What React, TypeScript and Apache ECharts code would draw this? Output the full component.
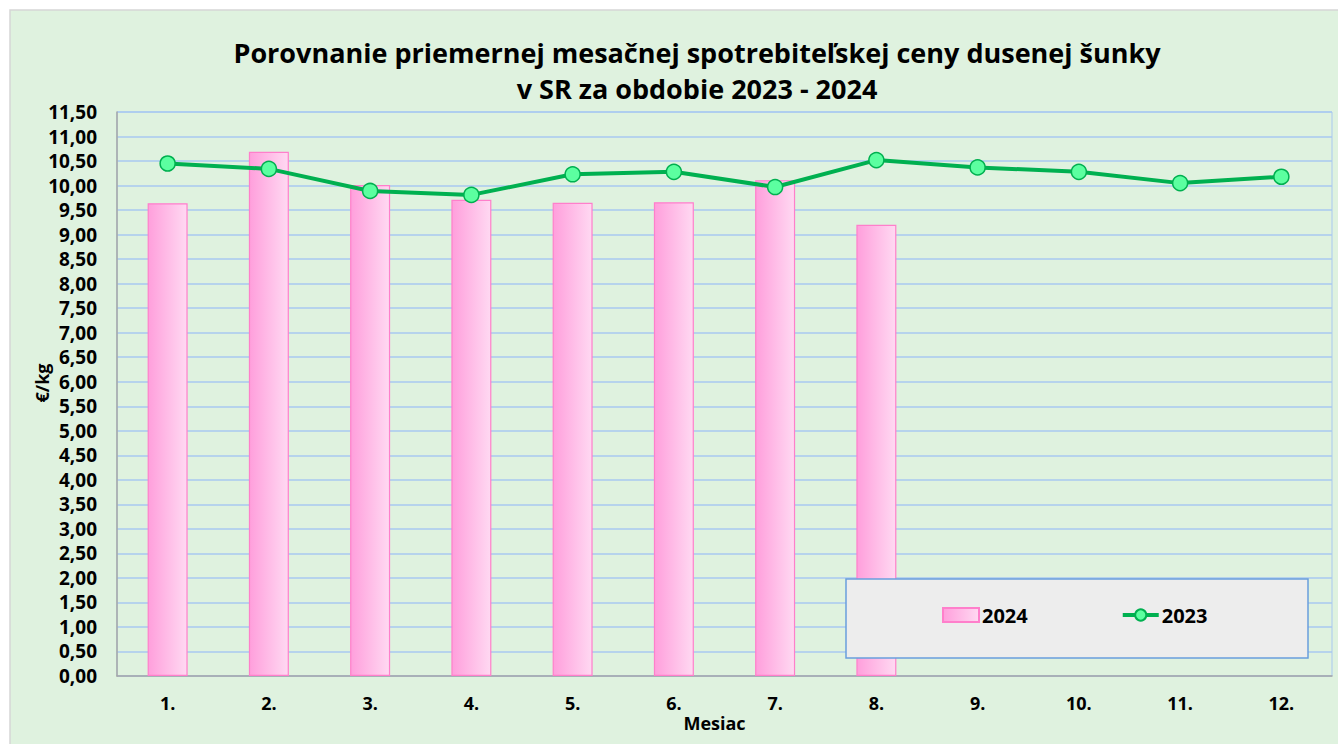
import React, { useEffect, useRef } from "react";
import * as echarts from "echarts";

const months = ["1.", "2.", "3.", "4.", "5.", "6.", "7.", "8.", "9.", "10.", "11.", "12."];
const values2024 = [9.64, 10.69, 10.01, 9.71, 9.65, 9.66, 10.11, 9.2, null, null, null, null];
const values2023 = [10.45, 10.34, 9.89, 9.81, 10.23, 10.28, 9.97, 10.52, 10.37, 10.28, 10.05, 10.18];
const titleText = "Porovnanie priemernej mesačnej spotrebiteľskej ceny dusenej šunky\nv SR za obdobie 2023 - 2024";
const FONT = "'Open Sans', 'Noto Sans', sans-serif";

export default function App() {
  const ref = useRef<HTMLDivElement>(null);
  useEffect(() => {
    if (!ref.current) return;
    const chart = echarts.init(ref.current, null, { renderer: "svg" });
    const barGrad = new echarts.graphic.LinearGradient(0, 0, 1, 0, [
      { offset: 0, color: "#FF9FDC" },
      { offset: 1, color: "#FFD9F2" },
    ]);
    chart.setOption({
      animation: false,
      backgroundColor: "#FFFFFF",
      textStyle: { fontFamily: FONT },
      graphic: [
        {
          type: "rect",
          z: -10,
          silent: true,
          shape: { x: 10, y: 10, width: 1330, height: 740 },
          style: { fill: "#DFF2DF", stroke: "#D6D6D6", lineWidth: 1.5 },
        },
        {
          type: "rect",
          z: 10,
          silent: true,
          shape: { x: 846, y: 579, width: 462, height: 79 },
          style: { fill: "#EDEDED", stroke: "#6A9FDD", lineWidth: 1.5 },
        },
      ],
      title: {
        text: titleText,
        left: 692,
        textAlign: "center",
        top: 29,
        textStyle: {
          fontFamily: FONT,
          fontWeight: "bold",
          fontSize: 27,
          lineHeight: 36,
          color: "#000000",
        },
      },
      legend: {
        left: 942,
        top: 605,
        padding: 0,
        z: 20,
        itemGap: 93,
        itemWidth: 36,
        itemHeight: 14,
        textStyle: { fontFamily: FONT, fontWeight: "bold", fontSize: 20, color: "#000", padding: [0, 0, 0, -2] },
        data: [
          { name: "2024", icon: "rect" },
          { name: "2023", lineStyle: { width: 4 } },
        ],
      },
      grid: {
        left: 117,
        top: 112,
        right: 6,
        bottom: 68,
        show: true,
        borderColor: "#A9C8F0",
        borderWidth: 1,
        backgroundColor: "transparent",
      },
      xAxis: {
        type: "category",
        data: months,
        name: "Mesiac",
        nameLocation: "middle",
        nameGap: 38,
        nameMoveOverlap: false,
        nameTextStyle: { fontFamily: FONT, fontWeight: "bold", fontSize: 18, color: "#000", padding: [0, 20, 0, 0] },
        axisLine: { show: true, lineStyle: { color: "#A6A6A6", width: 1.5 } },
        axisTick: { show: false },
        axisLabel: { fontFamily: FONT, fontWeight: "bold", fontSize: 18, color: "#000", margin: 18 },
        splitLine: { show: false },
      },
      yAxis: {
        type: "value",
        min: 0,
        max: 11.5,
        interval: 0.5,
        name: "€/kg",
        nameLocation: "middle",
        nameGap: 66,
        nameMoveOverlap: false,
        nameRotate: 90,
        nameTextStyle: { fontFamily: FONT, fontWeight: "bold", fontSize: 18, color: "#000", padding: [0, 0, 0, 22] },
        axisLine: { show: true, lineStyle: { color: "#A6A6A6", width: 1.5 } },
        axisTick: { show: false },
        axisLabel: {
          fontFamily: FONT,
          fontWeight: "bold",
          fontSize: 19,
          color: "#000",
          margin: 20,
          formatter: (v: number) => v.toFixed(2).replace(".", ","),
        },
        splitLine: { show: true, lineStyle: { color: "#A9C8F0", width: 1.5 } },
      },
      series: [
        {
          name: "2024",
          type: "bar",
          data: values2024,
          barWidth: 40,
          itemStyle: { color: barGrad, borderColor: "#FF7FCB", borderWidth: 1.2 },
        },
        {
          name: "2023",
          type: "line",
          data: values2023,
          z: 5,
          symbol: "circle",
          symbolSize: 15,
          lineStyle: { color: "#00B050", width: 4 },
          itemStyle: { color: "#5CFFA0", borderColor: "#00B050", borderWidth: 1.5 },
        },
      ],
    });
    return () => chart.dispose();
  }, []);
  return (
    <div
      ref={ref}
      style={{ position: "fixed", left: 0, top: 0, width: 1338, height: 744 }}
    />
  );
}
